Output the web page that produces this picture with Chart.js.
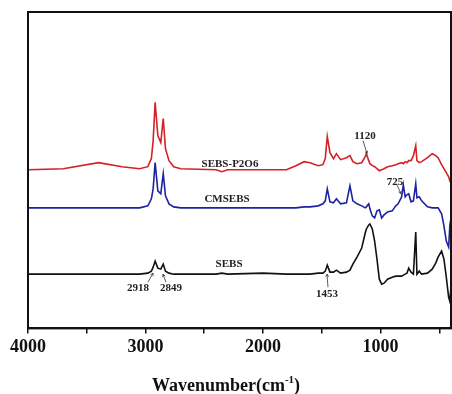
<!DOCTYPE html>
<html>
<head>
<meta charset="utf-8">
<script src="https://cdn.jsdelivr.net/npm/chart.js@4/dist/chart.umd.min.js"></script>
<style>
  html, body { margin: 0; padding: 0; background: #fff; }
  #wrap { width: 452px; height: 394px; }
</style>
</head>
<body>
<div id="wrap"><canvas id="chart"></canvas></div>
<script>
// FTIR spectra, wavenumber in cm-1 (shared grid), intensity in arbitrary units (stacked)
const wavenumbers = [
  4000, 3700, 3400, 3200, 3050, 2980, 2950, 2935, 2918, 2895, 2870, 2849,
  2830, 2800, 2760, 2700, 2400, 2350, 2300, 2000, 1800, 1720, 1650, 1600,
  1530, 1490, 1470, 1453, 1430, 1400, 1375, 1340, 1290, 1260, 1235, 1200,
  1160, 1130, 1120, 1100, 1090, 1070, 1050, 1030, 1010, 990, 970, 940,
  900, 870, 850, 820, 806, 790, 775, 760, 740, 720, 700, 690,
  670, 650, 600, 560, 530, 510, 480, 460, 440, 420, 410, 400,
];

const sebsP2O6 = [
  158, 159, 165, 161, 159, 161, 169, 187, 225, 192, 185, 209,
  179, 167, 161, 159, 158, 156, 158, 158, 158, 162, 166, 165,
  162, 163, 169, 191, 175, 169, 174, 168, 170, 172, 166, 164,
  165, 171, 174, 167, 164, 162, 161, 159, 157, 158, 159, 161,
  162, 163, 164, 165, 164, 166, 165, 167, 167, 172, 182, 167,
  165, 166, 170, 174, 172, 170, 163, 159, 155, 151, 147, 149,
];

const cmsebs = [
  120, 120, 120, 120, 120, 122, 129, 139, 165, 137, 134, 154,
  132, 124, 121, 120, 120, 120, 120, 120, 120, 120, 121, 121,
  122, 124, 127, 139, 126, 125, 129, 124, 125, 142, 127, 124,
  122, 120, 121, 124, 119, 112, 110, 117, 118, 110, 113, 116,
  117, 122, 124, 131, 143, 131, 133, 134, 126, 127, 144, 130,
  131, 127, 121, 120, 120, 120, 114, 102, 87, 81, 102, 110,
];

const sebs = [
  54, 54, 54, 54, 54, 55, 57, 61, 67, 60, 59, 64,
  57, 55, 54, 54, 54, 55, 54, 55, 54, 54, 54, 54,
  55, 55, 57, 63, 56, 56, 58, 55, 56, 58, 64, 71,
  80, 95, 99, 103, 104, 99, 87, 69, 49, 44, 45, 49,
  51, 52, 52, 52, 53, 54, 55, 60, 56, 54, 96, 54,
  57, 54, 55, 59, 65, 71, 77, 69, 51, 31, 27, 42,
];

const tickValues = [4000, 3500, 3000, 2500, 2000, 1500, 1000, 500];
const majorTicks = [4000, 3000, 2000, 1000];

const seriesNames = ['SEBS-P2O6', 'CMSEBS', 'SEBS'];
const peakLabels = ['2918', '2849', '1453', '1120', '725'];

// where the text sits, in data units
const nameSpots = [[2281, 164], [2306, 129], [2289, 64]];
const peakSpots = [[3064, 40], [2783, 40], [1455, 34], [1132, 191], [877, 146]];
// arrows from label to peak: [fromX, fromY, toX, toY]
const arrowSpots = [
  [2979, 46, 2936, 55],
  [2826, 46, 2851, 54],
  [1447, 41, 1455, 54],
  [1149, 187, 1115, 174],
  [860, 143, 826, 134],
];

const SERIF = '"Liberation Serif", "Times New Roman", serif';

const toPoints = (vals) => wavenumbers.map((w, i) => ({ x: w, y: vals[i] }));

const annotate = {
  id: 'annotate',
  afterDraw(chart) {
    const { ctx, chartArea, scales: { x, y } } = chart;
    ctx.save();

    // frame
    ctx.strokeStyle = '#111';
    ctx.lineWidth = 2;
    ctx.strokeRect(chartArea.left, chartArea.top,
      chartArea.right - chartArea.left, chartArea.bottom - chartArea.top);

    ctx.fillStyle = '#222';
    ctx.textAlign = 'center';
    ctx.textBaseline = 'middle';
    ctx.font = 'bold 11px ' + SERIF;
    seriesNames.forEach((t, i) => {
      ctx.fillText(t, x.getPixelForValue(nameSpots[i][0]), y.getPixelForValue(nameSpots[i][1]));
    });
    peakLabels.forEach((t, i) => {
      ctx.fillText(t, x.getPixelForValue(peakSpots[i][0]), y.getPixelForValue(peakSpots[i][1]));
    });

    // arrows
    ctx.strokeStyle = '#333';
    ctx.lineWidth = 0.8;
    arrowSpots.forEach(([x0, y0, x1, y1]) => {
      const ax = x.getPixelForValue(x0), ay = y.getPixelForValue(y0);
      const bx = x.getPixelForValue(x1), by = y.getPixelForValue(y1);
      const ang = Math.atan2(by - ay, bx - ax);
      ctx.beginPath();
      ctx.moveTo(ax, ay);
      ctx.lineTo(bx, by);
      ctx.moveTo(bx - 3 * Math.cos(ang - 0.5), by - 3 * Math.sin(ang - 0.5));
      ctx.lineTo(bx, by);
      ctx.lineTo(bx - 3 * Math.cos(ang + 0.5), by - 3 * Math.sin(ang + 0.5));
      ctx.stroke();
    });

    // axis title with superscript
    const main = 'Wavenumber(cm', sup = '-1', tail = ')';
    ctx.textAlign = 'left';
    ctx.textBaseline = 'alphabetic';
    ctx.fillStyle = '#111';
    ctx.font = 'bold 18px ' + SERIF;
    const wMain = ctx.measureText(main).width;
    const wTail = ctx.measureText(tail).width;
    ctx.font = 'bold 11px ' + SERIF;
    const wSup = ctx.measureText(sup).width;
    let tx = chart.width / 2 - (wMain + wSup + wTail) / 2;
    const ty = 391;
    ctx.font = 'bold 18px ' + SERIF;
    ctx.fillText(main, tx, ty);
    tx += wMain;
    ctx.font = 'bold 11px ' + SERIF;
    ctx.fillText(sup, tx, ty - 8);
    tx += wSup;
    ctx.font = 'bold 18px ' + SERIF;
    ctx.fillText(tail, tx, ty);

    ctx.restore();
  },
};

new Chart(document.getElementById('chart').getContext('2d'), {
  type: 'line',
  data: {
    datasets: [
      { label: 'SEBS', data: toPoints(sebs), borderColor: '#111111' },
      { label: 'CMSEBS', data: toPoints(cmsebs), borderColor: '#1c22a2' },
      { label: 'SEBS-P2O6', data: toPoints(sebsP2O6), borderColor: '#d42027' },
    ].map((d) => ({ ...d, borderWidth: 1.6, pointRadius: 0, tension: 0, fill: false })),
  },
  options: {
    responsive: true,
    maintainAspectRatio: false,
    animation: false,
    layout: { padding: { left: 28, top: 12, right: 1, bottom: 33 } },
    plugins: { legend: { display: false }, tooltip: { enabled: false }, title: { display: false } },
    scales: {
      x: {
        type: 'linear',
        reverse: true,
        min: 400,
        max: 4000,
        afterBuildTicks: (scale) => {
          scale.ticks = tickValues.map((v) => ({ value: v }));
        },
        grid: { drawOnChartArea: false, drawTicks: true, tickLength: 5, color: '#111', lineWidth: 1.5 },
        border: { display: true, color: '#111', width: 2 },
        ticks: {
          autoSkip: false,
          maxRotation: 0,
          padding: 3,
          color: '#111',
          font: { family: SERIF, size: 18, weight: 'bold' },
          callback: (val) => (majorTicks.includes(val) ? String(val) : ''),
        },
      },
      y: { display: false, min: 0, max: 315 },
    },
  },
  plugins: [annotate],
});
</script>
</body>
</html>
